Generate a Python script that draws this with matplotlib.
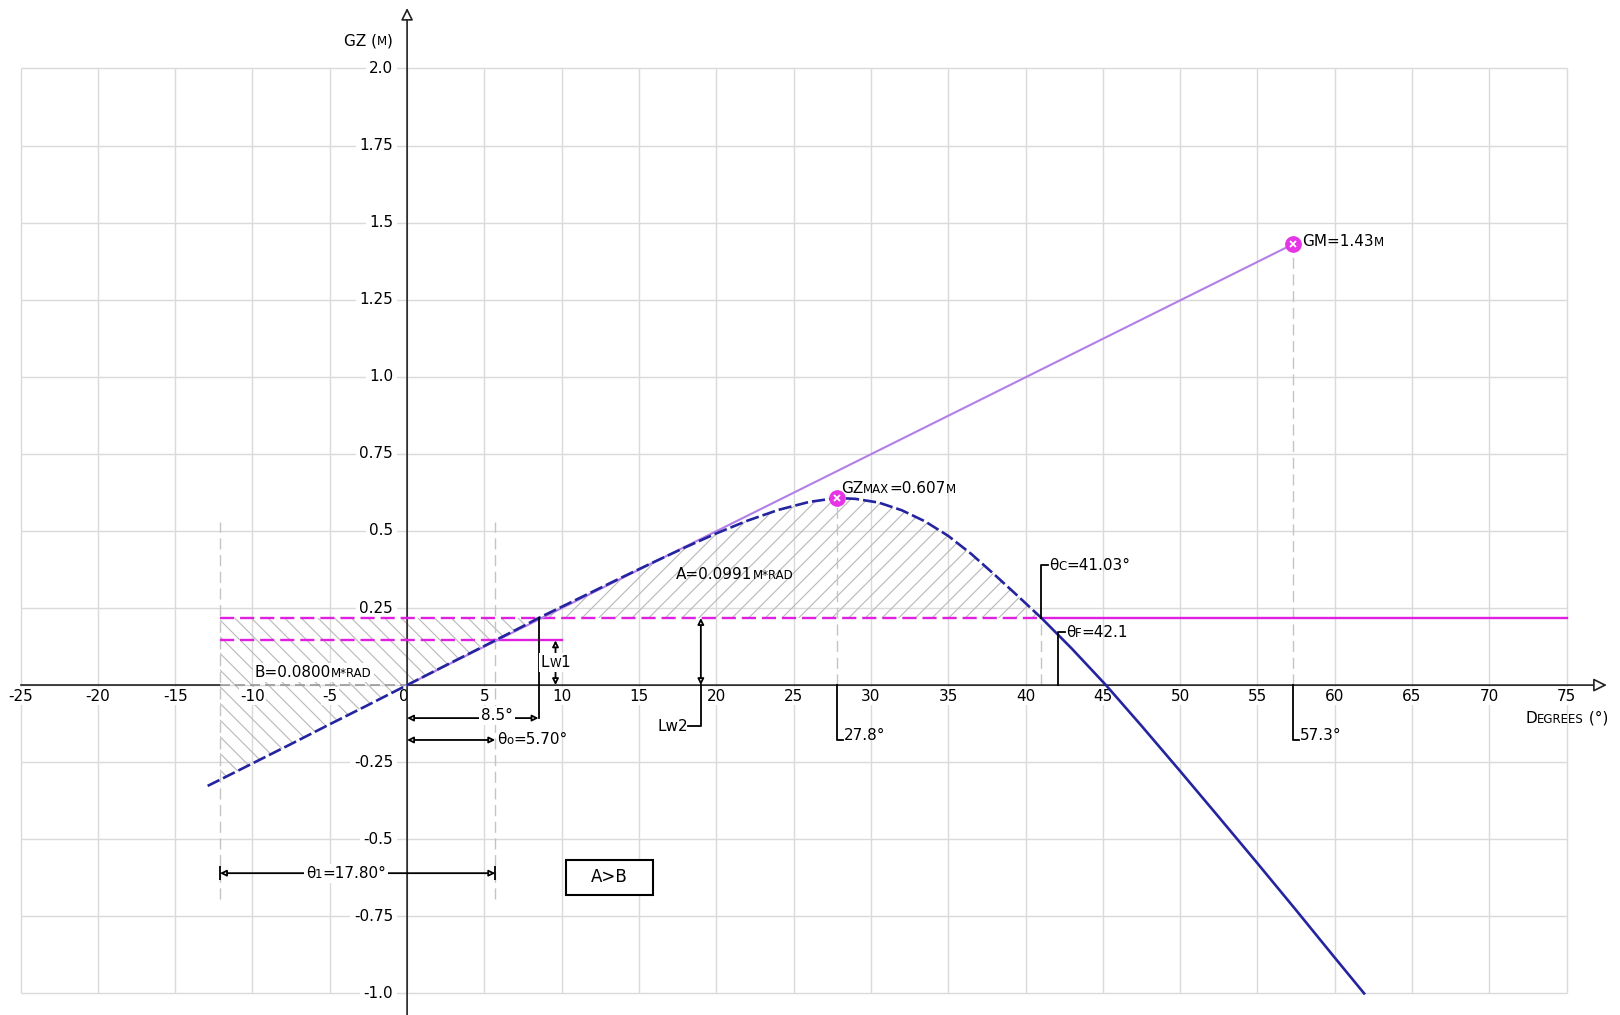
import numpy as np
import matplotlib.pyplot as plt
from matplotlib.offsetbox import TextArea, HPacker, AnnotationBbox
from matplotlib.patches import Rectangle

# righting lever curve: heel angle (deg) against GZ (m)
heel = [-12.9, -12.1, -10, -7.5, -5, -2.5, 0, 2.5, 5, 5.7, 7.5, 8.5, 10, 12, 14, 16,
        18, 20, 22, 24, 26, 27.8, 29, 30.5, 32, 33.5, 35, 36.5, 38, 39.5, 41.03, 43,
        45.2, 47.5, 50, 52.5, 55, 57.5, 60, 61.9]
gz = [-0.327, -0.307, -0.254, -0.191, -0.127, -0.064, 0.0, 0.064, 0.127, 0.145, 0.191,
      0.2175, 0.254, 0.303, 0.352, 0.400, 0.447, 0.492, 0.533, 0.568, 0.594, 0.607,
      0.604, 0.592, 0.567, 0.531, 0.484, 0.425, 0.358, 0.289, 0.2175, 0.118, 0.0,
      -0.132, -0.279, -0.428, -0.578, -0.730, -0.884, -1.0]

gm = 1.43
gm_angle = 57.3
lw1 = 0.145
lw2 = 0.2175
theta0 = 5.70
theta1 = 17.80
theta_lw2 = 8.5
theta_max = 27.8
gz_max = 0.607
theta_c = 41.03
theta_f = 42.1
area_a = 0.0991
area_b = 0.0800

x_ticks = list(range(-25, 80, 5))
y_ticks = [2.0, 1.75, 1.5, 1.25, 1.0, 0.75, 0.5, 0.25, -0.25, -0.5, -0.75, -1.0]
y_tick_labels = ['2.0', '1.75', '1.5', '1.25', '1.0', '0.75', '0.5', '0.25',
                 '-0.25', '-0.5', '-0.75', '-1.0']

FONT = 'DejaVu Sans'
BIG, SMALL = 11, 8.5

heel = np.array(heel)
gz = np.array(gz)

fig = plt.figure(figsize=(16.2, 10.15), dpi=100)
ax = fig.add_axes([0, 0, 1, 1])
ax.set_xlim(-26.33, 78.45)
ax.set_ylim(-1.07, 2.222)
ax.axis('off')


def caps(x, y, parts, ha='left', bg=False, z=6):
    # mixed size text, small parts act as small capitals
    boxes = [TextArea(s, textprops=dict(size=SMALL if small else BIG, family=FONT, color='black'))
             for s, small in parts]
    pack = HPacker(children=boxes, align='baseline', pad=0, sep=0)
    bx = {'left': 0.0, 'center': 0.5, 'right': 1.0}[ha]
    ab = AnnotationBbox(pack, (x, y), xycoords='data', box_alignment=(bx, 0.5),
                        frameon=bg, pad=0.15, zorder=z)
    if bg:
        ab.patch.set_facecolor('white')
        ab.patch.set_edgecolor('none')
    ax.add_artist(ab)


def dim(x0, y0, x1, y1):
    ax.annotate('', xy=(x1, y1), xytext=(x0, y0),
                arrowprops=dict(arrowstyle='<|-|>', lw=1.3, ec='black', fc='white',
                                mutation_scale=9, shrinkA=0, shrinkB=0), zorder=5)


# grid
grid = '#dadada'
ax.vlines(x_ticks, -1.0, 2.0, color=grid, lw=1.0, zorder=0)
ax.hlines(np.arange(-1.0, 2.01, 0.25), -25, 75, color=grid, lw=1.0, zorder=0)

# tick labels
for t in x_ticks:
    ax.text(t - (0.2 if t == 0 else 0), -0.036, str(t), ha='center', va='center',
            size=BIG, family=FONT, zorder=2,
            bbox=dict(fc='white', ec='none', pad=1.0))
for t, s in zip(y_ticks, y_tick_labels):
    ax.text(-0.9, t, s, ha='right', va='center', size=BIG, family=FONT, zorder=2,
            bbox=dict(fc='white', ec='none', pad=2.5))

# hatched areas A and B
left = theta0 - theta1
hatch_c = '#b8b8b8'
plt.rcParams['hatch.linewidth'] = 0.8
mb = (heel >= left - 1e-9) & (heel <= theta_lw2)
ax.fill_between(heel[mb], gz[mb], lw2, facecolor='none', edgecolor=hatch_c,
                hatch='\\\\', linewidth=0, zorder=1)
ma = (heel >= theta_lw2) & (heel <= theta_c)
ax.fill_between(heel[ma], lw2, gz[ma], facecolor='none', edgecolor=hatch_c,
                hatch='//', linewidth=0, zorder=1)

# axes
ax.plot([-25, left], [0, 0], color='#222222', lw=1.2, zorder=3)
ax.plot([left, 0], [0, 0], color='#999999', lw=1.2, dashes=(6, 3), zorder=3)
ax.annotate('', xy=(77.6, 0), xytext=(0, 0),
            arrowprops=dict(arrowstyle='-|>', lw=1.2, ec='#222222', fc='white',
                            mutation_scale=20, shrinkA=0, shrinkB=0), zorder=3)
ax.annotate('', xy=(0, 2.196), xytext=(0, -1.07),
            arrowprops=dict(arrowstyle='-|>', lw=1.2, ec='#222222', fc='white',
                            mutation_scale=18, shrinkA=0, shrinkB=0), zorder=3)

# light construction lines
lg = '#c4c4c4'
for xv, ya, yb in [(left, -0.695, 0.53), (theta0, -0.695, 0.53), (theta_max, 0, gz_max),
                   (gm_angle, 0, gm), (theta_c, 0, lw2)]:
    ax.plot([xv, xv], [ya, yb], color=lg, lw=1.0, dashes=(8, 4), zorder=2)

# heeling levers
mag = '#e01fe0'
ax.plot([left, theta_c], [lw2, lw2], color=mag, lw=1.7, dashes=(6, 2.5), zorder=3)
ax.plot([theta_c, 75], [lw2, lw2], color=mag, lw=1.7, zorder=3)
ax.plot([left, theta0], [lw1, lw1], color=mag, lw=1.7, dashes=(6, 2.5), zorder=3)
ax.plot([theta0, 10], [lw1, lw1], color=mag, lw=1.7, zorder=3)

# GM tangent
ax.plot([0, gm_angle], [0, gm], color='#b27fe8', lw=1.5, zorder=3)

# GZ curve, dashed up to the angle of capsize, solid beyond
blue = '#2424a0'
md = heel <= theta_c
ax.plot(heel[md], gz[md], color=blue, lw=1.9, dashes=(5, 1.5), zorder=4)
ms = heel >= theta_c
ax.plot(heel[ms], gz[ms], color=blue, lw=1.9, zorder=4)

# markers
for px, py in [(gm_angle, gm), (theta_max, gz_max)]:
    ax.plot(px, py, 'o', ms=11, color='#e535e5', zorder=6)
    ax.plot(px, py, 'x', ms=5, mew=1.3, color='white', zorder=7)

# leaders
k = dict(color='black', lw=1.3, zorder=5)
ax.plot([theta_lw2, theta_lw2], [lw2, -0.107], **k)
ax.plot([theta_max, theta_max, theta_max + 0.4], [0, -0.178, -0.178], **k)
ax.plot([gm_angle, gm_angle, gm_angle + 0.4], [0, -0.178, -0.178], **k)
ax.plot([theta_c, theta_c, theta_c + 0.45], [lw2, 0.389, 0.389], **k)
ax.plot([theta_f, theta_f, theta_f + 0.45], [0, 0.171, 0.171], **k)
ax.plot([19, 19, 18.2], [0, -0.134, -0.134], **k)

# dimensions
dim(0, -0.107, theta_lw2, -0.107)
dim(0, -0.178, theta0, -0.178)
dim(left, -0.61, theta0, -0.61)
ax.vlines([left, theta0], -0.633, -0.587, color='black', lw=1.3, zorder=5)
dim(9.6, 0, 9.6, lw1)
dim(19, 0, 19, lw2)

# labels
caps(gm_angle + 0.6, gm + 0.01, [('GM=1.43', 0), ('M', 1)])
caps(theta_max + 0.25, 0.637, [('GZ', 0), ('MAX', 1), ('=0.607', 0), ('M', 1)])
caps(17.4, 0.36, [('A=%.4f' % area_a, 0), ('M*RAD', 1)])
caps(-9.85, 0.042, [('B=%.4f' % area_b, 0), ('M*RAD', 1)], bg=True)
caps(theta_c + 0.5, 0.389, [('θ', 0), ('C', 1), ('=41.03°', 0)])
caps(theta_f + 0.5, 0.171, [('θ', 0), ('F', 1), ('=42.1', 0)])
caps(5.8, -0.098, [('8.5°', 0)], ha='center', bg=True)
caps(theta0 + 0.1, -0.178, [('θ', 0), ('o', 1), ('=5.70°', 0)])
caps(-3.95, -0.61, [('θ', 0), ('1', 1), ('=17.80°', 0)], ha='center', bg=True)
caps(9.6, 0.072, [('L', 0), ('W', 1), ('1', 0)], ha='center', bg=True)
caps(18.15, -0.134, [('Lw2', 0)], ha='right')
caps(theta_max + 0.45, -0.165, [('27.8°', 0)])
caps(gm_angle + 0.45, -0.165, [('57.3°', 0)])
caps(77.7, -0.107, [('D', 0), ('EGREES', 1), (' (°)', 0)], ha='right')
caps(-0.9, 2.09, [('GZ (', 0), ('M', 1), (')', 0)], ha='right')

# A>B check box
ax.add_patch(Rectangle((10.3, -0.680), 5.6, 0.114, fc='white', ec='black', lw=1.5, zorder=5))
ax.text(13.1, -0.623, 'A>B', ha='center', va='center', size=12, family=FONT, zorder=6)

fig.savefig('out.png', dpi=100)
